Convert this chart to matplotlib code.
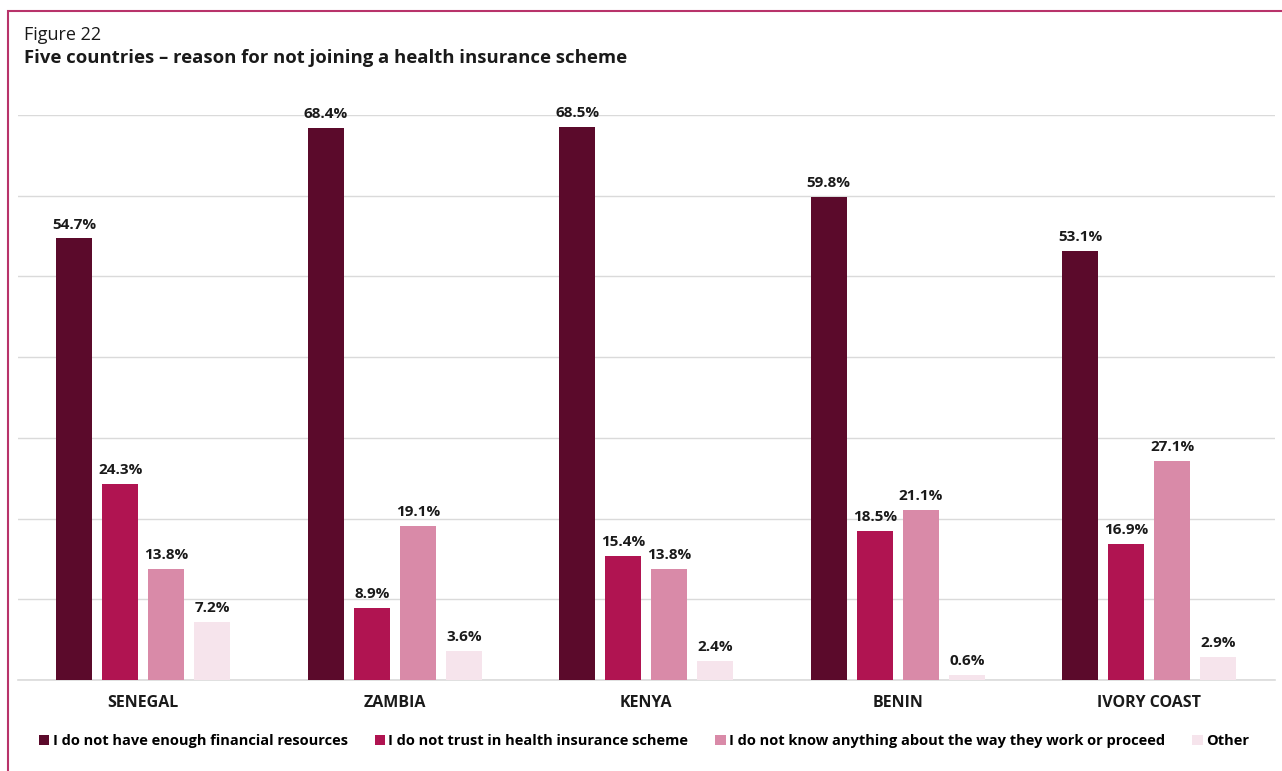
import matplotlib
matplotlib.use("Agg")
import matplotlib.pyplot as plt
from matplotlib.patches import Rectangle, Patch
import numpy as np

countries = ["SENEGAL", "ZAMBIA", "KENYA", "BENIN", "IVORY COAST"]
series_names = [
    "I do not have enough financial resources",
    "I do not trust in health insurance scheme",
    "I do not know anything about the way they work or proceed",
    "Other",
]
financial = [54.7, 68.4, 68.5, 59.8, 53.1]
no_trust = [24.3, 8.9, 15.4, 18.5, 16.9]
no_knowledge = [13.8, 19.1, 13.8, 21.1, 27.1]
other = [7.2, 3.6, 2.4, 0.6, 2.9]
colors = ["#5B0A2B", "#B01451", "#D98AA8", "#F6E4EC"]

plt.rcParams["font.family"] = ["Open Sans", "DejaVu Sans"]

W, H = 1282, 771
fig = plt.figure(figsize=(W / 100, H / 100), dpi=100)
ax = fig.add_axes([17.5 / W, 1 - 680 / H, 1257.5 / W, (680 - 115) / H])

x = np.arange(len(countries))
pitch = 0.183
width = 0.143
all_series = [financial, no_trust, no_knowledge, other]
for i, (vals, c, name) in enumerate(zip(all_series, colors, series_names)):
    bars = ax.bar(x + (i - 1.5) * pitch, vals, width, color=c, label=name, zorder=3)
    ax.bar_label(bars, labels=[f"{v:.1f}%" for v in vals], padding=5,
                 fontsize=11, fontweight="bold", color="#1a1a1a")

ax.set_xlim(-0.5, len(countries) - 0.5)
ax.set_ylim(0, 70)
ax.set_yticks(np.arange(0, 71, 10))
ax.yaxis.grid(True, color="#DADADA", linewidth=1, zorder=0)
ax.tick_params(axis="y", left=False, labelleft=False)
ax.tick_params(axis="x", bottom=False, pad=7)
ax.set_xticks(x)
ax.set_xticklabels(countries, fontsize=11.5, fontweight="bold", color="#1a1a1a")
for s in ["top", "right", "left"]:
    ax.spines[s].set_visible(False)
ax.spines["bottom"].set_color("#DADADA")
ax.spines["bottom"].set_linewidth(1.2)

handles = [Patch(facecolor=c, edgecolor="none") for c in colors]
fig.legend(handles, series_names, loc="center", bbox_to_anchor=(644 / W, 1 - 741 / H),
           ncol=4, frameon=False, handlelength=0.7, handleheight=0.7,
           handletextpad=0.25, columnspacing=1.85,
           prop={"size": 10.5, "weight": "bold"})

fig.text(24 / W, 1 - 35 / H, "Figure 22", fontsize=13, va="center", ha="left", color="#1a1a1a")
fig.text(24 / W, 1 - 58 / H, "Five countries \u2013 reason for not joining a health insurance scheme",
         fontsize=13.3, fontweight="bold", va="center", ha="left", color="#1a1a1a")

fig.patches.append(Rectangle((8 / W, -0.1), 1.2, 1 - 11 / H + 0.1, transform=fig.transFigure,
                             fill=False, edgecolor="#B8336A", linewidth=1.5))

fig.savefig("out.png", dpi=100)
